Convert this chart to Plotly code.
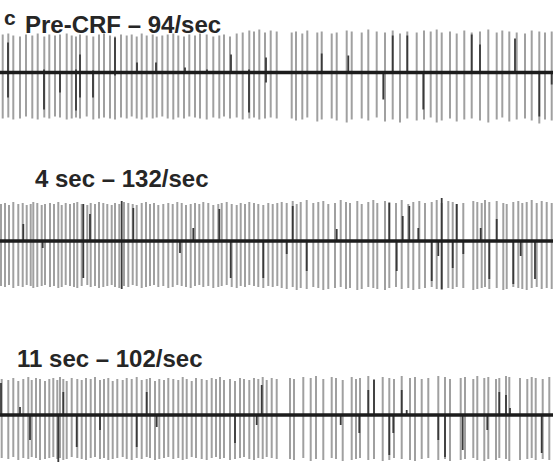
import plotly.graph_objects as go

W, H = 553, 465

# ---------------- data (spike times in samples, amplitudes in µV-like units) ----------------
pre_t = [2.7, 8.3, 13.3, 20, 26, 32.3, 37.7, 44.3, 49.3, 55,
         60, 66.7, 71.7, 76, 80, 86.7, 93.3, 99, 104, 110,
         115, 121, 126.7, 131.7, 136.7, 141.7, 146.7, 152.7, 156.7, 162.3,
         167.7, 173.3, 178.3, 184, 189.3, 195, 200, 206.7, 213.3, 219.3,
         224, 230, 236.7, 242.7, 249.3, 254, 259.3, 265, 270.7, 276.7,
         291.7, 296, 302.3, 307.3, 317.3, 321.7, 331.7, 336.7, 346.7, 351.7,
         361.7, 368.3, 376.7, 385, 392.7, 400, 407.3, 416.7, 424, 430.7,
         436.7, 441.7, 450, 456.7, 464.3, 471.7, 480, 488.3, 496.7, 502.3,
         509.3, 516.7, 525, 531.7, 539.3, 545, 551.7]
pre_up = [38, 39, 37, 36, 38, 37, 39, 36, 38, 37,
          38, 39, 37, 36, 38, 37, 36, 38, 39, 37,
          36, 38, 37, 38, 36, 39, 37, 38, 36, 37,
          38, 39, 37, 36, 38, 37, 39, 38, 36, 37,
          38, 36, 39, 40, 42, 41, 43, 40, 42, 41,
          40, 41, 39, 42, 40, 41, 39, 40, 42, 41,
          40, 43, 41, 40, 42, 39, 41, 40, 42, 41,
          43, 40, 41, 39, 42, 40, 41, 43, 40, 42,
          41, 40, 39, 42, 41, 40, 41]
pre_dn = [46, 45, 47, 46, 44, 46, 47, 45, 46, 44,
          45, 47, 46, 45, 46, 44, 47, 46, 45, 46,
          47, 45, 46, 44, 46, 47, 45, 46, 45, 44,
          46, 47, 45, 46, 44, 45, 46, 47, 45, 46,
          44, 46, 45, 47, 46, 45, 47, 46, 45, 46,
          46, 48, 47, 45, 49, 47, 46, 48, 50, 47,
          46, 48, 45, 49, 47, 50, 46, 48, 47, 45,
          50, 48, 46, 49, 47, 46, 48, 50, 47, 45,
          49, 47, 46, 48, 51, 47, 48]
pre_dark_t = [8, 44, 60, 76, 80, 93, 115, 137, 156, 185,
              207, 231, 249, 266, 321.7, 348.3, 383.3, 392.7, 407.3, 423.3,
              471.7, 480, 515, 539.3, 551.7]
pre_dark_up = [30, 3, 0, 3, 18, 2, 35, 10, 10, 5,
               3, 18, 3, 15, 19, 17, 0, 37, 37, 0,
               38, 28, 34, 0, 0]
pre_dark_dn = [25, 37, 20, 38, 25, 25, 3, 0, 0, 0,
               0, 0, 40, 10, 0, 0, 27, 0, 0, 37,
               0, 0, 0, 44, 12]

s4_t = [1, 5, 9, 13.3, 18.3, 22.7, 26.7, 30.7, 33.3, 37.3,
        41.7, 45, 50, 54, 58.3, 61.7, 65.7, 70, 74, 77.3,
        81.7, 87.3, 90.7, 95, 99, 103.3, 107.3, 111.7, 115, 119.3,
        124, 128.3, 132.7, 136.7, 141.7, 146, 150, 154, 158.3, 163.3,
        168.3, 172.7, 177.3, 181.7, 186, 190.7, 195, 199.3, 203.3, 208.3,
        213.3, 218.3, 221.7, 226.7, 231.7, 236.7, 240.7, 245, 249.3, 254,
        258.3, 263.3, 268.3, 272.7, 277.3,
        281.7, 286.7, 292.7, 296.7, 300.7, 306.7, 313.3, 318.3, 323.3, 328.3,
        335, 340.7, 346, 350, 357.3, 361.7, 368.3, 373.3, 377.3, 385,
        389.3, 396, 401.7, 408.3, 413.3, 419.3, 425, 431.7, 436.7, 441.7,
        448.3, 452.7, 456.7, 463.3, 473.3, 477.3, 481.7, 485, 489.3, 496.7,
        503.3, 506.7, 513.3, 518.3, 522.3, 526.7, 531.7, 536.7, 541.7, 546.7,
        551.7]
s4_up = [37, 38, 36, 39, 37, 38, 36, 37, 39, 38,
         36, 37, 38, 37, 39, 36, 38, 37, 38, 39,
         37, 36, 38, 37, 39, 38, 37, 36, 38, 37,
         39, 38, 37, 36, 38, 39, 37, 38, 36, 37,
         38, 37, 39, 38, 36, 37, 38, 37, 39, 38,
         36, 37, 38, 39, 37, 36, 38, 37, 39, 38,
         37, 36, 38, 37, 38, 39, 38, 40, 37, 39,
         41, 38, 39, 40, 37, 38, 41, 39, 38, 40,
         37, 39, 41, 38, 40, 39, 38, 41, 37, 39,
         40, 38, 39, 41, 38, 40, 39, 37, 38, 40,
         39, 38, 41, 39, 40, 38, 37, 39, 40, 38,
         39, 41, 38, 40, 39, 38]
s4_dn = [45, 46, 44, 47, 45, 46, 44, 45, 47, 46,
         45, 44, 46, 45, 47, 46, 44, 45, 46, 47,
         45, 44, 46, 45, 47, 46, 45, 44, 46, 47,
         45, 46, 44, 45, 47, 46, 45, 44, 46, 45,
         47, 46, 44, 45, 46, 47, 45, 44, 46, 45,
         47, 46, 45, 44, 46, 47, 45, 46, 44, 45,
         46, 47, 45, 46, 45, 47, 48, 46, 49, 47,
         48, 46, 47, 49, 48, 47, 46, 48, 47, 49,
         48, 46, 47, 48, 49, 47, 46, 48, 47, 49,
         48, 47, 46, 48, 49, 47, 48, 46, 47, 49,
         48, 47, 46, 48, 47, 49, 48, 46, 47, 48,
         49, 47, 46, 48, 47, 48]
s4_dark_t = [23.3, 42.7, 83.3, 90, 121.7, 133.3, 180, 193.3, 219.3, 230.7,
             263.3, 286.7, 292.7, 306.7, 336.7, 389.3, 396.7, 402.7, 409.3, 418.3,
             431.7, 438.3, 441.7, 452.7, 456.7, 463.3, 480.7, 489.3, 496.7, 513.3,
             520.7, 535]
s4_dark_up = [17, 0, 37, 27, 40, 33, 0, 13, 32, 0,
              0, 0, 35, 0, 12, 38, 0, 25, 35, 13,
              0, 0, 43, 0, 37, 0, 13, 0, 22, 0,
              0, 0]
s4_dark_dn = [0, 7, 37, 0, 48, 0, 12, 0, 0, 37,
              37, 13, 0, 30, 0, 0, 30, 0, 0, 0,
              40, 15, 48, 27, 0, 13, 0, 38, 0, 43,
              15, 38]

s11_t = [1.7, 8.3, 13.3, 18.3, 23.3, 28.3, 31.7, 36, 40, 45,
         49.3, 53.3, 57.3, 60, 63.3, 66.7, 71.7, 77.3, 81.7, 86,
         90.7, 95, 100, 104, 108.3, 112.7, 117.3, 122.7, 126.7, 131.7,
         136.7, 141.7, 146.7, 150, 155, 159.3, 164, 168.3, 173.3, 178.3,
         182.7, 186.7, 191.7, 196, 201.7, 206.7, 211.7, 216, 220, 224,
         230, 235, 240, 244, 249.3, 254, 258.3, 262.7, 266.7, 271.7,
         276.7,
         290, 294, 303.3, 310.7, 316, 323.3, 331.7, 336, 342.7,
         351.7, 356, 360, 368.3, 374, 382.7, 389.3, 394, 401.7, 410,
         415, 421.7, 428.3, 438.3, 445, 450, 460.7, 465, 473.3, 477.3,
         484.3, 488.3, 496, 499.3, 506, 509.3, 520, 527.3, 531.7, 535.7,
         542.7, 549.3]
s11_up = [36, 35, 37, 34, 36, 38, 35, 37, 36, 34,
          36, 37, 35, 38, 36, 34, 37, 36, 35, 37,
          36, 38, 35, 36, 37, 34, 36, 35, 37, 36,
          38, 35, 36, 37, 34, 36, 35, 37, 36, 35,
          38, 36, 34, 37, 36, 35, 37, 36, 38, 35,
          36, 34, 37, 36, 35, 37, 36, 38, 35, 37,
          36, 37, 36, 38, 37, 39, 36, 38, 37, 35,
          38, 36, 37, 39, 36, 38, 37, 36, 39, 37,
          38, 36, 37, 39, 38, 36, 37, 38, 36, 39,
          37, 38, 36, 37, 39, 38, 37, 36, 38, 37,
          36, 38]
s11_dn = [43, 44, 42, 45, 43, 44, 42, 43, 45, 44,
          43, 42, 44, 43, 45, 44, 42, 43, 44, 45,
          43, 42, 44, 43, 45, 44, 43, 42, 44, 45,
          43, 44, 42, 43, 45, 44, 43, 42, 44, 43,
          45, 44, 42, 43, 44, 45, 43, 42, 44, 43,
          45, 44, 43, 42, 44, 45, 43, 44, 42, 43,
          44, 44, 45, 43, 46, 44, 45, 43, 44, 46,
          45, 44, 43, 45, 44, 46, 45, 43, 44, 45,
          46, 44, 43, 45, 44, 46, 45, 44, 43, 45,
          46, 44, 45, 43, 44, 46, 45, 44, 43, 45,
          44, 45]
s11_dark_t = [1, 20, 30, 58.3, 63.3, 76.7, 100, 136.7, 146.7, 156.7,
              235, 256.7, 261.7, 340.7, 359.3, 368.3, 374, 389.3, 393.3, 401.7,
              406.7, 438.3, 445, 462.7, 487.3, 499.3, 506, 510, 541.7]
s11_dark_up = [32, 8, 0, 0, 23, 0, 0, 0, 23, 0,
               0, 0, 30, 0, 0, 25, 35, 0, 0, 25,
               5, 0, 0, 0, 0, 23, 20, 7, 0]
s11_dark_dn = [0, 0, 25, 47, 0, 32, 15, 32, 0, 12,
               28, 10, 0, 10, 18, 0, 0, 40, 18, 0,
               0, 25, 42, 35, 15, 0, 0, 0, 38]

labels = ["Pre-CRF \u2013 94/sec", "4 sec \u2013 132/sec", "11 sec \u2013 102/sec"]
panel_letter = "c"

# ---------------- layout constants (pixel geometry of the panels) ----------------
# (top px, baseline px, bottom px) for each trace panel
panels = [(25, 72.5, 135), (190, 241, 300), (365, 415, 465)]
label_pos = [(23, 24.5), (33, 178), (15, 358)]

GRAY = "#a0a0a0"
DARK = "#3a3a3a"
BASE = "#1c1c1c"
TEXT = "#262626"
FONT = "Liberation Sans, Arial, sans-serif"


def segs(ts, ups, dns):
    xs, ys = [], []
    for t, u, d in zip(ts, ups, dns):
        xs += [t, t, None]
        ys += [-d, u, None]
    return xs, ys


data_sets = [
    (pre_t, pre_up, pre_dn, pre_dark_t, pre_dark_up, pre_dark_dn),
    (s4_t, s4_up, s4_dn, s4_dark_t, s4_dark_up, s4_dark_dn),
    (s11_t, s11_up, s11_dn, s11_dark_t, s11_dark_up, s11_dark_dn),
]

fig = go.Figure()
layout_axes = {}
for i, ((top, base, bot), ds) in enumerate(zip(panels, data_sets)):
    t, up, dn, dt, dup, ddn = ds
    yname = "y" if i == 0 else f"y{i + 1}"
    gx, gy = segs(t, up, dn)
    fig.add_trace(go.Scatter(x=gx, y=gy, mode="lines", yaxis=yname,
                             line=dict(color=GRAY, width=2), hoverinfo="skip",
                             showlegend=False))
    dx, dy = segs(dt, dup, ddn)
    fig.add_trace(go.Scatter(x=dx, y=dy, mode="lines", yaxis=yname,
                             line=dict(color=DARK, width=1.8), hoverinfo="skip",
                             showlegend=False))
    fig.add_trace(go.Scatter(x=[0, W], y=[0, 0], mode="lines", yaxis=yname,
                             line=dict(color=BASE, width=3.5), hoverinfo="skip",
                             showlegend=False))
    key = "yaxis" if i == 0 else f"yaxis{i + 1}"
    layout_axes[key] = dict(
        domain=[(H - bot) / H, (H - top) / H],
        range=[-(bot - base), base - top],
        visible=False, fixedrange=True,
    )

annotations = [dict(text=f"<b>{panel_letter}</b>", x=2 / W, y=1 - 18 / H,
                    xref="paper", yref="paper", xanchor="left", yanchor="middle",
                    showarrow=False,
                    font=dict(family=FONT, size=21, color=TEXT))]
for lab, (lx, ly) in zip(labels, label_pos):
    annotations.append(dict(text=f"<b>{lab}</b>", x=lx / W, y=1 - ly / H,
                            xref="paper", yref="paper", xanchor="left", yanchor="middle",
                            showarrow=False,
                            font=dict(family=FONT, size=24, color=TEXT)))

fig.update_layout(
    width=W, height=H,
    margin=dict(l=0, r=0, t=0, b=0),
    paper_bgcolor="white", plot_bgcolor="white",
    xaxis=dict(range=[0, W], visible=False, fixedrange=True),
    annotations=annotations,
    **layout_axes,
)

fig.write_html("out.html", config={"displayModeBar": False},
               post_script="document.body.style.margin='0';document.body.style.overflow='hidden';")
